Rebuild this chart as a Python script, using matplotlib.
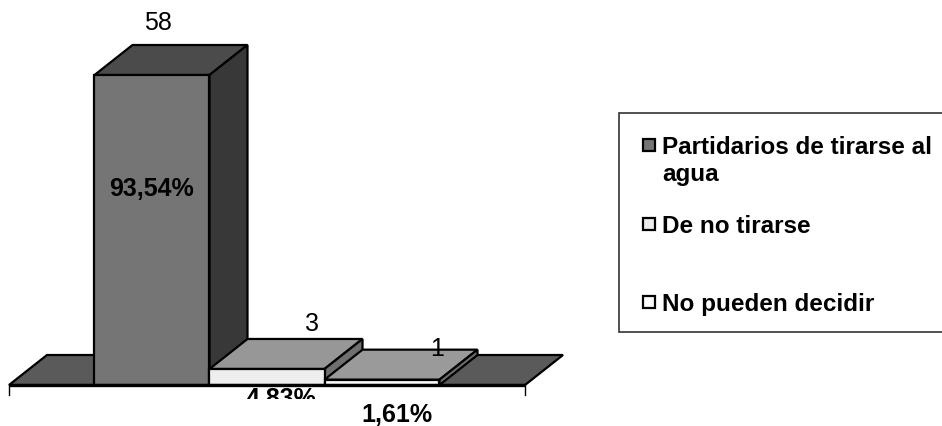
import matplotlib
matplotlib.use('Agg')
import matplotlib.pyplot as plt
from matplotlib.patches import Polygon, Rectangle
from matplotlib.transforms import IdentityTransform

# datos
series = ['Partidarios de tirarse al\nagua', 'De no tirarse', 'No pueden decidir']
valores = [58, 3, 1]
porcentajes = ['93,54%', '4,83%', '1,61%']

frente = ['#757575', '#eeeeee', '#fbfbfb']
tapa = ['#4b4b4b', '#979797', '#9a9a9a']
lado = ['#383838', '#6f6f6f', '#6f6f6f']

W, H = 942, 427
plt.rcParams['font.family'] = ['Liberation Sans', 'DejaVu Sans']

fig = plt.figure(figsize=(W / 100, H / 100), dpi=100, facecolor='white')
ax = fig.add_axes([9 / W, (H - 386) / H, 516 / W, 310 / H])
ax.set_xlim(0, 1)
ax.set_ylim(0, 58)
ax.axis('off')

# profundidad 3D y ancho de barra en unidades de datos
dx = 38 / 516
dy = 30 * 58 / 310
ancho = 115 / 516
x0 = 0.5 - 1.5 * ancho
borde = dict(edgecolor='black', linewidth=1.6, joinstyle='miter', clip_on=False)


def poly(puntos, color):
    ax.add_patch(Polygon(puntos, closed=True, facecolor=color, **borde))


def barra(x, v, i):
    poly([(x, v), (x + ancho, v), (x + ancho + dx, v + dy), (x + dx, v + dy)], tapa[i])
    poly([(x + ancho, 0), (x + ancho + dx, dy), (x + ancho + dx, v + dy), (x + ancho, v)], lado[i])
    poly([(x, 0), (x + ancho, 0), (x + ancho, v), (x, v)], frente[i])


def etiqueta(txt, i, v, ox, oy, **kw):
    # desplazamiento en pixeles desde el frente de la barra
    cx = x0 + (i + 0.5) * ancho
    return ax.annotate(txt, xy=(cx, v), xytext=(ox * 0.72, oy * 0.72), textcoords='offset points',
                       fontsize=18, ha='center', annotation_clip=False, **kw)


# piso
poly([(0, 0), (1, 0), (1 + dx, dy), (dx, dy)], '#5a5a5a')

for i, v in enumerate(valores):
    barra(x0 + i * ancho, v, i)

# eje y marcas
ax.plot([0, 1], [0, 0], color='black', lw=2.4, clip_on=False, solid_capstyle='butt')
ax.plot([0, 0], [0, -10 * 58 / 310], color='black', lw=1, clip_on=False)
ax.plot([1, 1], [0, -10 * 58 / 310], color='black', lw=1, clip_on=False)

# etiquetas de valor
etiqueta(str(valores[0]), 0, valores[0], 5.5, 46, va='baseline')
etiqueta(str(valores[1]), 1, valores[1], 44.5, 39, va='baseline')
etiqueta(str(valores[2]), 2, valores[2], 55.5, 25, va='baseline')

# porcentajes
etiqueta(porcentajes[0], 0, valores[0], 0, -120, va='baseline', fontweight='bold')
t = etiqueta(porcentajes[1], 1, 0, 14.5, -20, va='baseline', fontweight='bold')
# el texto sale cortado en el original
t.set_clip_path(Rectangle((0, H - 400), W, 400, transform=IdentityTransform()))
t.set_clip_on(True)
etiqueta(porcentajes[2], 2, 0, 14.5, -36, va='baseline', fontweight='bold')


# leyenda
def px(x, y):
    return x / W, 1 - y / H


caja = Rectangle(px(619, 333), 330 / W, 219 / H, transform=fig.transFigure,
                 facecolor='white', edgecolor='#333333', linewidth=1.2, clip_on=False)
fig.add_artist(caja)

filas_y = [146, 225, 303]
for nombre, y, c in zip(series, filas_y, frente):
    cuadro = Rectangle(px(643, y + 6), 12 / W, 12 / H, transform=fig.transFigure,
                       facecolor=c, edgecolor='black', linewidth=1.6)
    fig.add_artist(cuadro)
    fx, fy = px(662, y + 8)
    n = nombre.split('\n')
    fig.text(fx, fy, n[0], fontsize=17.5, fontweight='bold', ha='left', va='baseline')
    if len(n) > 1:
        fx, fy = px(662, y + 35)
        fig.text(fx, fy, n[1], fontsize=17.5, fontweight='bold', ha='left', va='baseline')

fig.savefig('out.png', dpi=100)
